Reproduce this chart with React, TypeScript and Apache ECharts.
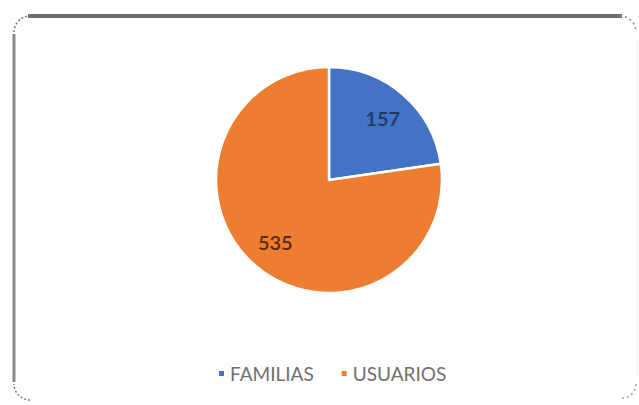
import React, { useEffect, useRef } from "react";
import * as echarts from "echarts";

const categories = ["FAMILIAS", "USUARIOS"];
const values = [157, 535];
const sliceColors = ["#4472C4", "#ED7D31"];
const labelColors = ["#1F3864", "#5A2A0A"];

const CX = 329;
const CY = 180;
const R = 113;

export default function App() {
  const ref = useRef<HTMLDivElement>(null);
  useEffect(() => {
    if (!ref.current) return;
    const chart = echarts.init(ref.current, undefined, { renderer: "svg" });
    const font = "Lato, 'Open Sans', sans-serif";
    chart.setOption({
      animation: false,
      backgroundColor: "#ffffff",
      textStyle: { fontFamily: font },
      legend: {
        data: categories,
        left: 212,
        top: 359,
        icon: "rect",
        itemWidth: 7,
        itemHeight: 7,
        itemGap: 26,
        textStyle: { color: "#707070", fontSize: 19, fontFamily: font },
        selectedMode: false,
      },
      graphic: [
        {
          type: "line",
          shape: { x1: 28, y1: 16, x2: 622, y2: 16 },
          style: { stroke: "#6e6e6e", lineWidth: 4 },
          silent: true,
        },
        {
          type: "line",
          shape: { x1: 14, y1: 34, x2: 14, y2: 382 },
          style: { stroke: "#8a8a8a", lineWidth: 3 },
          silent: true,
        },
        {
          type: "arc",
          shape: { cx: 30, cy: 32, r: 16, startAngle: Math.PI, endAngle: Math.PI * 1.5 },
          style: { stroke: "#777", lineWidth: 1.5, lineDash: [2, 2], fill: "none" },
          silent: true,
        },
        {
          type: "arc",
          shape: { cx: 620, cy: 32, r: 16, startAngle: Math.PI * 1.5, endAngle: Math.PI * 2 },
          style: { stroke: "#888", lineWidth: 1.5, lineDash: [2, 3], fill: "none" },
          silent: true,
        },
        {
          type: "arc",
          shape: { cx: 30, cy: 384, r: 16, startAngle: Math.PI * 0.5, endAngle: Math.PI },
          style: { stroke: "#777", lineWidth: 1.5, lineDash: [2, 2], fill: "none" },
          silent: true,
        },
        {
          type: "arc",
          shape: { cx: 622, cy: 384, r: 14, startAngle: 0, endAngle: Math.PI * 0.5 },
          style: { stroke: "#999", lineWidth: 1.5, lineDash: [2, 3], fill: "none" },
          silent: true,
        },
        {
          type: "line",
          shape: { x1: 637, y1: 40, x2: 637, y2: 375 },
          style: { stroke: "#f2f2f2", lineWidth: 1 },
          silent: true,
        },
      ],
      series: [
        {
          type: "pie",
          center: [CX, CY],
          radius: [0, R],
          startAngle: 90,
          clockwise: true,
          silent: true,
          itemStyle: { borderColor: "#ffffff", borderWidth: 2.5 },
          label: {
            show: true,
            position: "inside",
            formatter: "{c}",
            fontSize: 20,
            fontWeight: 600,
            fontFamily: font,
          },
          labelLine: { show: false },
          labelLayout: (params: any) => {
            const lr = params.labelRect;
            const lx = lr.x + lr.width / 2;
            const ly = lr.y + lr.height / 2;
            const k = 0.38;
            return { dx: (lx - CX) * k, dy: (ly - CY) * k };
          },
          data: categories.map((name, i) => ({
            name,
            value: values[i],
            itemStyle: { color: sliceColors[i] },
            label: { color: labelColors[i] },
          })),
        },
      ],
    });
    return () => chart.dispose();
  }, []);
  return (
    <div
      ref={ref}
      style={{ position: "fixed", left: 0, top: 0, width: 639, height: 405 }}
    />
  );
}
